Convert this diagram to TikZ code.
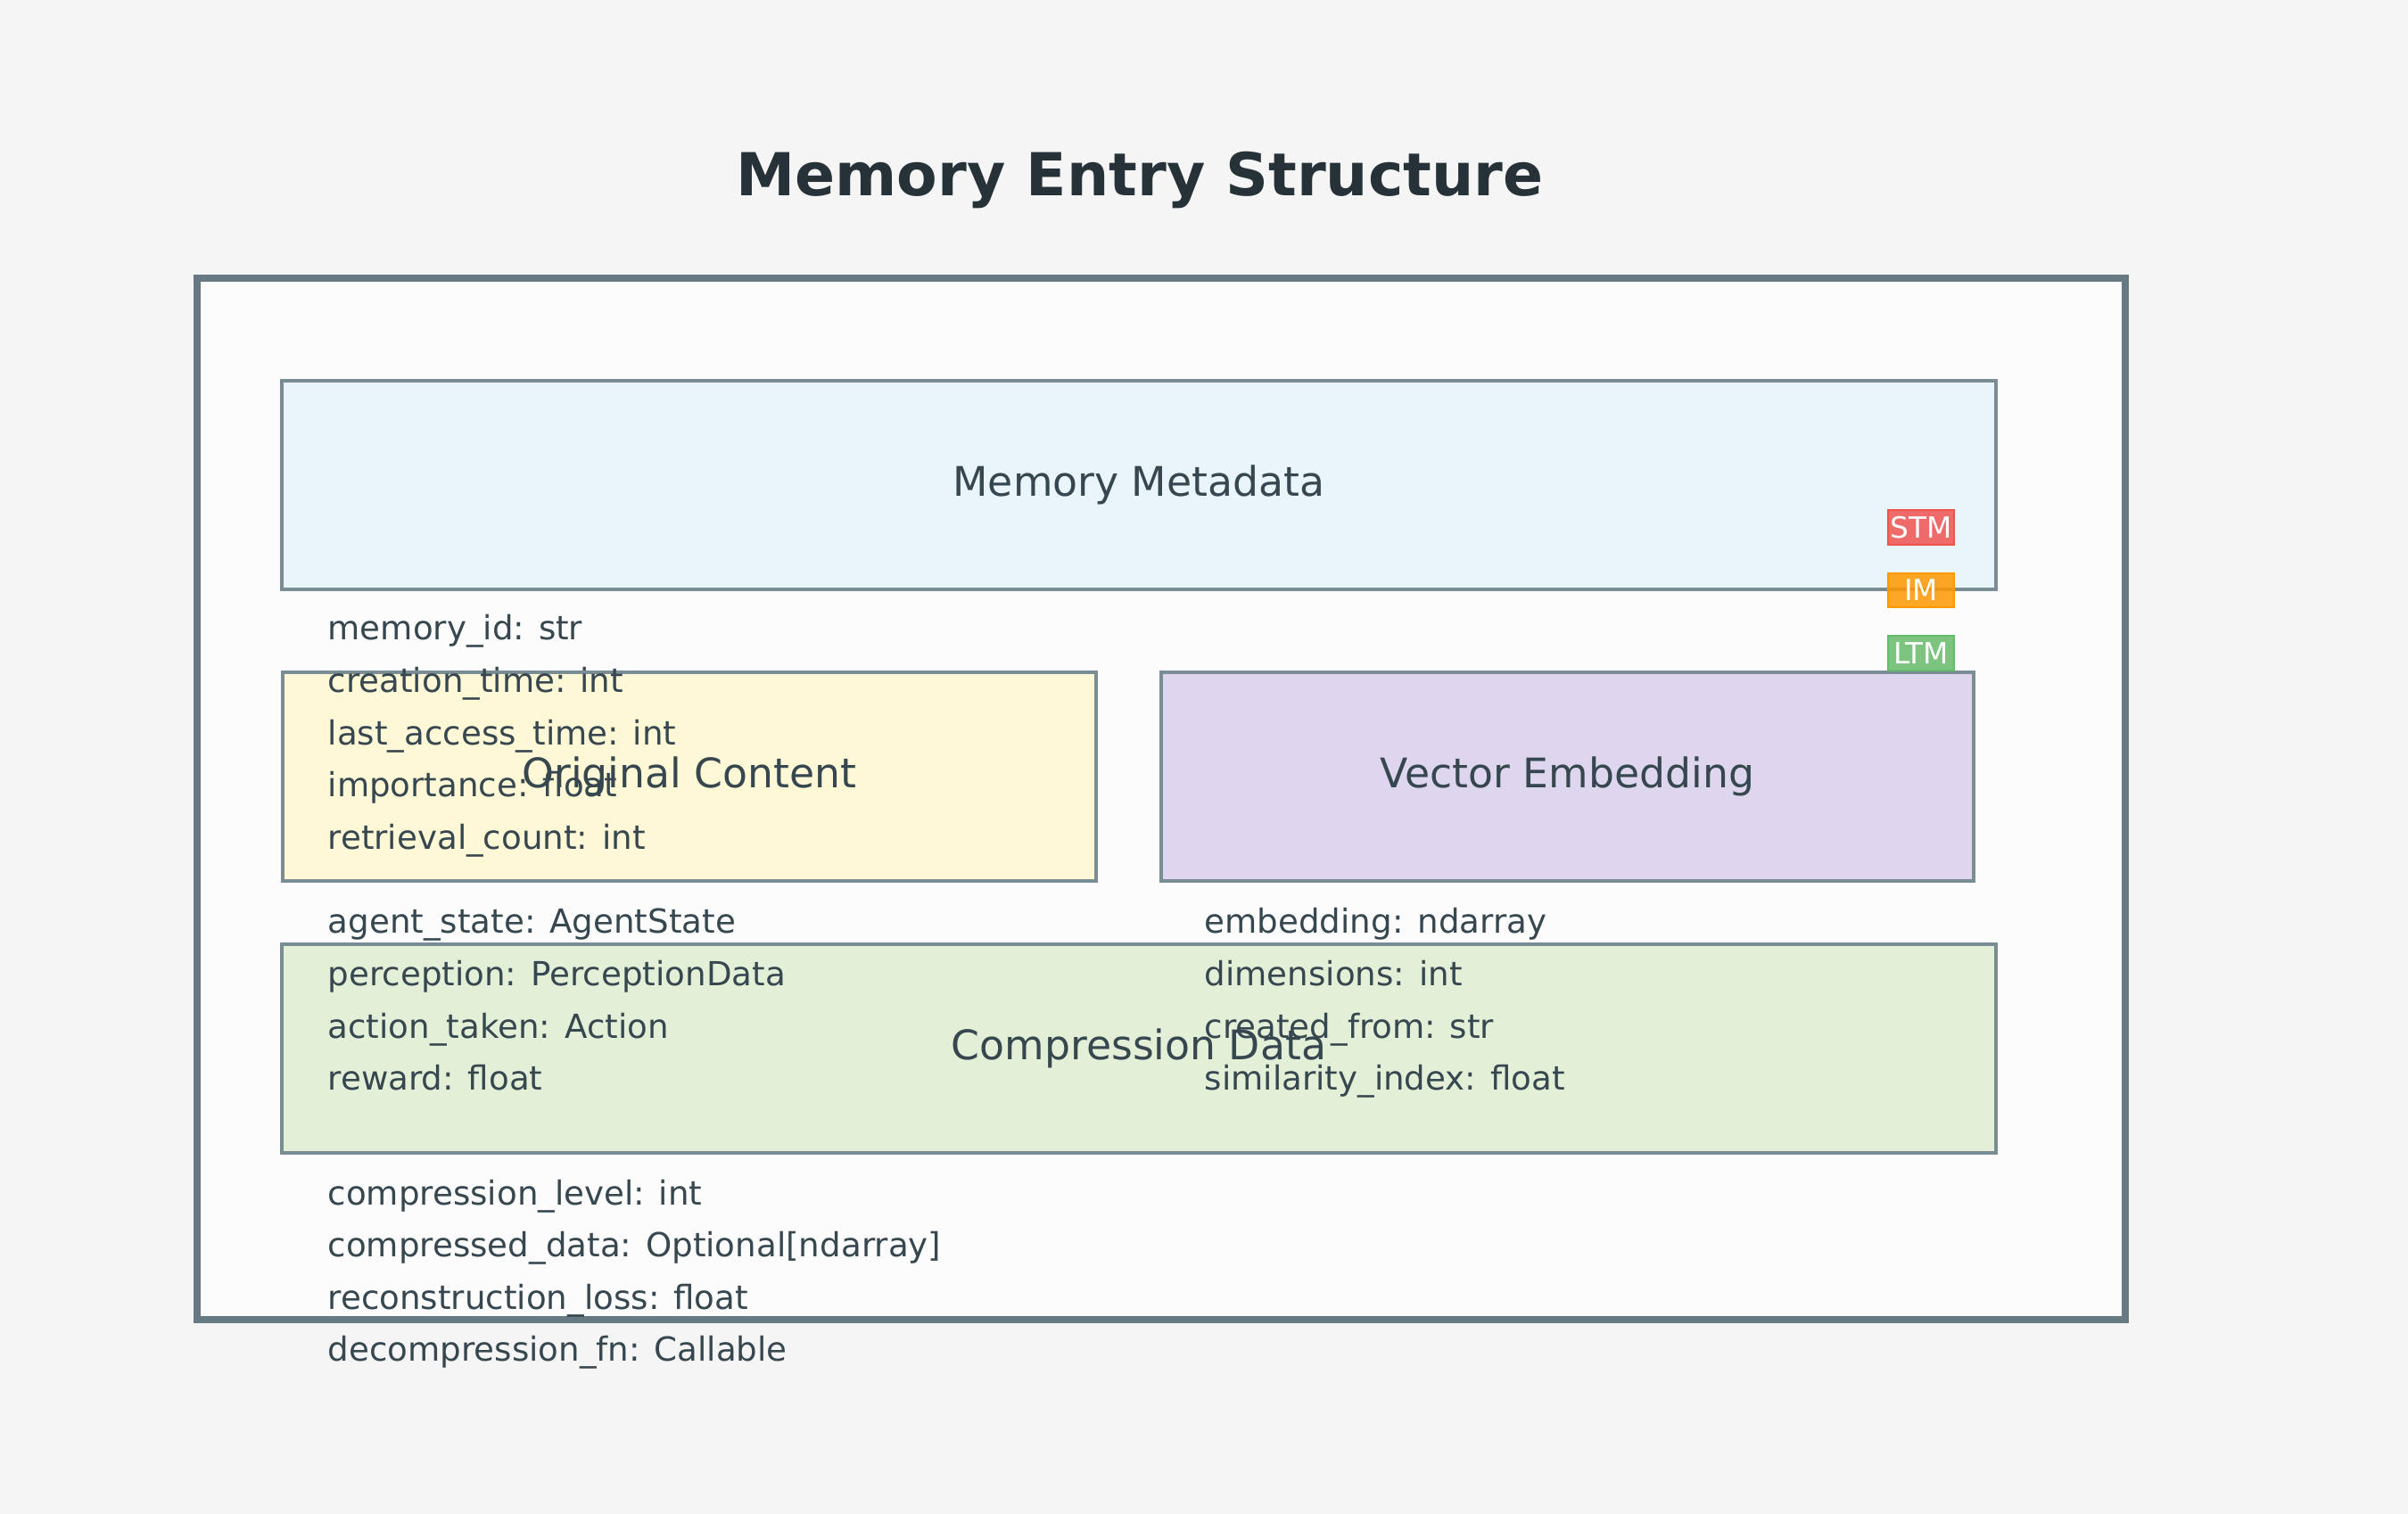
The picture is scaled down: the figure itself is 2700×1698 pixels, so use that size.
\documentclass[tikz,border=0pt]{standalone}
\usepackage{fontspec}
\setmainfont{DejaVu Sans}

\definecolor{paper}{HTML}{F5F5F5}
\definecolor{sheet}{HTML}{FCFCFC}
\definecolor{frameline}{HTML}{677A84}
\definecolor{boxline}{HTML}{7A8C94}
\definecolor{ink}{HTML}{37474F}
\definecolor{titleink}{HTML}{263238}
\definecolor{metafill}{HTML}{E9F5FB}
\definecolor{origfill}{HTML}{FFF8D6}
\definecolor{vecfill}{HTML}{DED6EE}
\definecolor{compfill}{HTML}{E3F0D7}
\definecolor{stmred}{HTML}{EF5350}
\definecolor{imorange}{HTML}{FF9800}
\definecolor{ltmgreen}{HTML}{66BB6A}

\tikzset{
  part/.style={draw=boxline, line width=0.04cm, minimum height=2.34cm,
    inner sep=0pt, text=ink, font=\fontsize{13}{15}\selectfont},
  field/.style={anchor=base west, inner sep=0pt, text=ink,
    font=\fontsize{10.58}{12}\selectfont},
  tier/.style={draw=#1, fill=#1, fill opacity=0.85, text opacity=1,
    line width=0.02cm, minimum width=0.74cm, minimum height=0.38cm,
    inner sep=0pt, text=white, font=\fontsize{9.3}{11}\selectfont},
}

\begin{document}
\begin{tikzpicture}[x=0.01cm, y=-0.01cm]
  % Page background.
  \fill[paper] (0,0) rectangle (2700,1698);
  \useasboundingbox (0,0) rectangle (2700,1698);
  \node[anchor=base, text=titleink, font=\fontsize{18.9}{22}\selectfont\bfseries]
    (title) at (1278,220) {Memory Entry Structure};
  % Outer entry frame.
  \node[draw=frameline, fill=sheet, line width=0.08cm,
    minimum width=21.6cm, minimum height=11.68cm] (entry) at (1302,896) {};
  % The four parts of an entry.
  \node[part, fill=metafill, minimum width=19.2cm] (meta) at (1277,544) {Memory Metadata};
  \node[part, fill=origfill, minimum width=9.12cm] (orig) at (773,871) {Original Content};
  \node[part, fill=vecfill, minimum width=9.11cm] (vec) at (1757.5,871) {Vector Embedding};
  \node[part, fill=compfill, minimum width=19.2cm] (comp) at (1277,1176) {Compression Data};
  % Field lists under each part.
  \foreach \txt [count=\i from 0] in {memory\_id: str, creation\_time: int,
      last\_access\_time: int, importance: float, retrieval\_count: int}
    \node[field] (md\i) at (367,718+58.6*\i) {\txt};
  \foreach \txt [count=\i from 0] in {agent\_state: AgentState,
      perception: PerceptionData, action\_taken: Action, reward: float}
    \node[field] (oc\i) at (367,1047+58.6*\i) {\txt};
  \foreach \txt [count=\i from 0] in {embedding: ndarray, dimensions: int,
      created\_from: str, similarity\_index: float}
    \node[field] (ve\i) at (1350,1047+58.6*\i) {\txt};
  \foreach \txt [count=\i from 0] in {compression\_level: int,
      {compressed\_data: Optional[ndarray]}, reconstruction\_loss: float,
      decompression\_fn: Callable}
    \node[field] (cd\i) at (367,1351+58.6*\i) {\txt};
  % Memory tiers.
  \node[tier=stmred] (stm) at (2154,591.5) {STM};
  \node[tier=imorange] (im) at (2154,662) {IM};
  \node[tier=ltmgreen] (ltm) at (2154,732.5) {LTM};
\end{tikzpicture}
\end{document}
